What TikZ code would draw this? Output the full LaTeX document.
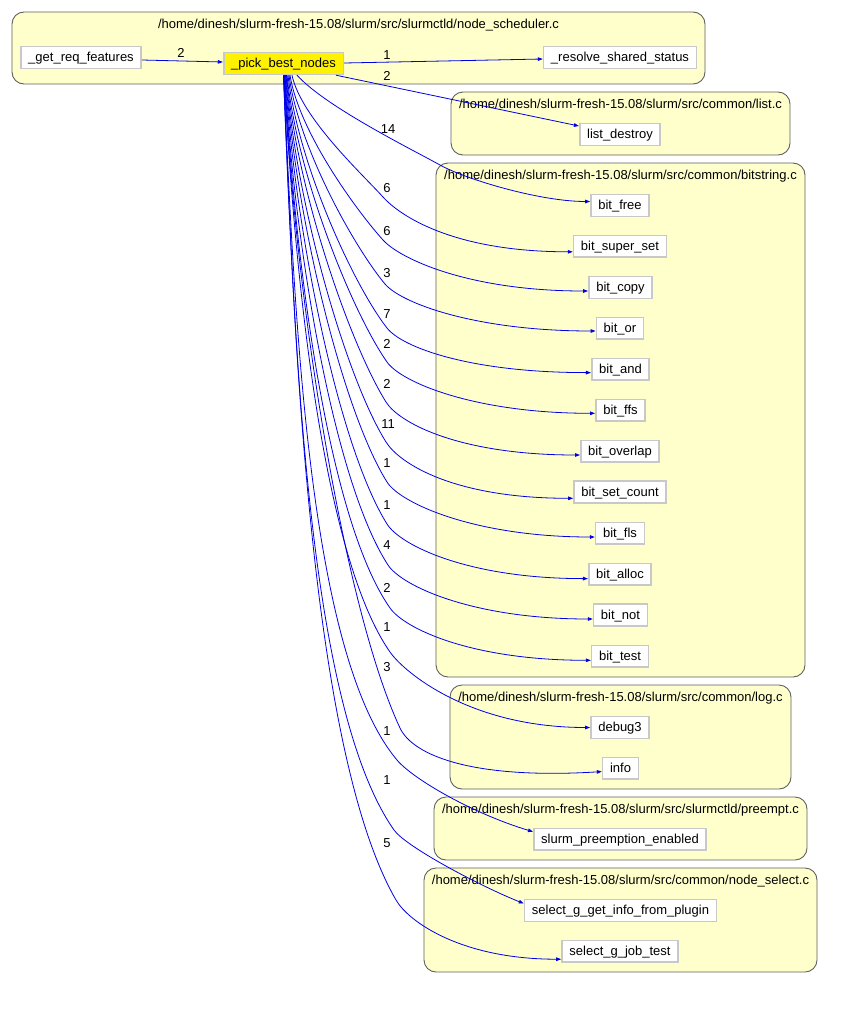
\documentclass[tikz,border=0pt]{standalone}
\usepackage{fontspec}
\setmainfont{Liberation Sans}
\usetikzlibrary{arrows.meta}
\definecolor{clfill}{RGB}{255,255,204}
\definecolor{clborder}{RGB}{96,96,96}
\definecolor{ndborder}{RGB}{200,200,200}
\definecolor{edgeblue}{RGB}{0,0,230}
\tikzset{
  fn/.style={font=\fontsize{13}{15}\selectfont, text height=11pt, text depth=3pt},
  fnode/.style={fn, draw=ndborder, line width=1.6pt, fill=white, inner xsep=7.4pt, inner ysep=0pt, minimum height=21.8pt},
  hinode/.style={fnode, fill=yellow},
  cluster/.style={draw=clborder, line width=0.9pt, fill=clfill, rounded corners=12pt},
  ctitle/.style={fn, inner sep=0pt},
  lbl/.style={fn, inner sep=0pt},
  calledge/.style={draw=edgeblue, line width=0.8pt, -{Triangle[length=5pt,width=3.6pt]}},
}
\newcommand\fanedge[9]{%
  \pgfmathsetmacro\fdx{#3-283.5-#2}%
  \pgfmathsetmacro\fdy{#4-75}%
  \pgfmathsetmacro\flen{20*sqrt((\fdx/100)^2+(\fdy/100)^2)}%
  \pgfmathsetmacro\fcx{#9*\fdx}%
  \pgfmathsetmacro\fcy{0.35*\fdy}%
  \pgfmathsetmacro\fys{-(#8)}%
  \draw[calledge] ([xshift=#2pt]pick.south) .. controls +(\fcx,\fcy) and +(#5+180:\flen) .. (#3,#4) .. controls +(#5:#6) and +(#7) .. ([yshift=\fys pt]#1.west);
}
\begin{document}
\begin{tikzpicture}[x=1pt,y=-1pt]
\useasboundingbox (0,0) rectangle (865,1020);
\fill[white] (0,0) rectangle (865,1020);
% clusters
\draw[cluster] (12,12) rectangle (705,84);
\draw[cluster] (451,92) rectangle (790,155);
\draw[cluster] (436,163) rectangle (805,677);
\draw[cluster] (450,685) rectangle (791,789);
\draw[cluster] (434,797) rectangle (807,860);
\draw[cluster] (424,868) rectangle (817,972);
\node[ctitle] (t1) at (358.5,24) {/home/dinesh/slurm-fresh-15.08/slurm/src/slurmctld/node\_scheduler.c};
\node[ctitle] (t2) at (620.5,104) {/home/dinesh/slurm-fresh-15.08/slurm/src/common/list.c};
\node[ctitle] (t3) at (620.5,175) {/home/dinesh/slurm-fresh-15.08/slurm/src/common/bitstring.c};
\node[ctitle] (t4) at (620.5,697) {/home/dinesh/slurm-fresh-15.08/slurm/src/common/log.c};
\node[ctitle] (t5) at (620.5,809) {/home/dinesh/slurm-fresh-15.08/slurm/src/slurmctld/preempt.c};
\node[ctitle] (t6) at (620.5,880) {/home/dinesh/slurm-fresh-15.08/slurm/src/common/node\_select.c};
% nodes
\node[fnode] (getreq) at (81,57.5) {\_get\_req\_features};
\node[hinode] (pick) at (283.5,63.5) {\_pick\_best\_nodes};
\node[fnode] (resolve) at (620,57.5) {\_resolve\_shared\_status};
\node[fnode] (listd) at (620,134.5) {list\_destroy};
\node[fnode] (bfree) at (620,205.5) {bit\_free};
\node[fnode] (bsuper) at (620,246.3) {bit\_super\_set};
\node[fnode] (bcopy) at (620.5,287.5) {bit\_copy};
\node[fnode] (bor) at (620,328.3) {bit\_or};
\node[fnode] (band) at (620.5,369.3) {bit\_and};
\node[fnode] (bffs) at (620.5,410.3) {bit\_ffs};
\node[fnode] (boverlap) at (620,451.3) {bit\_overlap};
\node[fnode] (bsetcount) at (620,492) {bit\_set\_count};
\node[fnode] (bfls) at (620,533.3) {bit\_fls};
\node[fnode] (balloc) at (620,574.3) {bit\_alloc};
\node[fnode] (bnot) at (620.5,615) {bit\_not};
\node[fnode] (btest) at (620,656.3) {bit\_test};
\node[fnode] (debug) at (620,727.5) {debug3};
\node[fnode] (info) at (620.5,768.3) {info};
\node[fnode] (preempt) at (620,839.2) {slurm\_preemption\_enabled};
\node[fnode] (getinfo) at (620.5,910.5) {select\_g\_get\_info\_from\_plugin};
\node[fnode] (jobtest) at (620,951.2) {select\_g\_job\_test};
% straight edges
\draw[calledge] ([yshift=-2.5pt]getreq.east) -- ([yshift=1.5pt]pick.west);
\draw[calledge] ([yshift=0.5pt]pick.east) -- ([yshift=-1.5pt]resolve.west);
\draw[calledge] ([xshift=52.5pt]pick.south) -- ([yshift=8.5pt]listd.west);
% fan edges: target, Sxshift, Kx, Ky, theta, L3, c4 offset, target y offset (down), a
\fanedge{bfree}{13.5}{440}{165}{29}{30}{-50,0}{-4}{0.2}
\fanedge{bsuper}{8.5}{383}{197}{48}{25}{-120,0}{5.5}{0.1}
\fanedge{bcopy}{6.5}{383}{240}{48}{25}{-120,0}{3.5}{0.1}
\fanedge{bor}{5.5}{385}{284}{50}{25}{-120,0}{2.7}{0.1}
\fanedge{band}{4.5}{387}{328}{52}{25}{-120,0}{3.3}{0.1}
\fanedge{bffs}{3.5}{387}{362}{55}{25}{-120,0}{3}{0.1}
\fanedge{boverlap}{3}{386}{402}{58}{25}{-120,0}{3.7}{0.1}
\fanedge{bsetcount}{2.5}{386}{442}{58}{25}{-120,0}{6.3}{0.1}
\fanedge{bfls}{2}{387}{482}{58}{25}{-120,0}{3.7}{0.1}
\fanedge{balloc}{1.5}{387}{524}{58}{25}{-120,0}{4.3}{0.1}
\fanedge{bnot}{1}{388}{565}{57}{25}{-120,0}{4}{0.1}
\fanedge{btest}{1}{390}{608}{55}{25}{-120,0}{4}{0.1}
\fanedge{debug}{0.5}{390}{652}{55}{25}{-120,0}{0}{0.1}
\fanedge{info}{0.5}{400}{728}{65}{30}{-130,8}{3.3}{0.1}
\fanedge{preempt}{0}{397}{760}{50}{25}{-60,-18}{-7.5}{0.1}
\fanedge{getinfo}{0}{394}{830}{55}{20}{-45,-18}{-7}{0.1}
\fanedge{jobtest}{0}{396}{900}{60}{25}{-100,0}{8}{0.1}
% labels
\node[lbl] (l0) at (181,53.5) {2};
\node[lbl] (l1) at (387,55.5) {1};
\node[lbl] (l2) at (387,76.5) {2};
\node[lbl] (l3) at (388,129.5) {14};
\node[lbl] (l4) at (387,188.5) {6};
\node[lbl] (l5) at (387,231.5) {6};
\node[lbl] (l6) at (387,273.5) {3};
\node[lbl] (l7) at (387,314.5) {7};
\node[lbl] (l8) at (387,344.5) {2};
\node[lbl] (l9) at (387,384.5) {2};
\node[lbl] (l10) at (388,424.5) {11};
\node[lbl] (l11) at (387,463.5) {1};
\node[lbl] (l12) at (387,505.5) {1};
\node[lbl] (l13) at (387,545.5) {4};
\node[lbl] (l14) at (387,588.5) {2};
\node[lbl] (l15) at (387,627.5) {1};
\node[lbl] (l16) at (387,667.5) {3};
\node[lbl] (l17) at (387,731.5) {1};
\node[lbl] (l18) at (387,780.5) {1};
\node[lbl] (l19) at (387,843.5) {5};
\end{tikzpicture}
\end{document}
